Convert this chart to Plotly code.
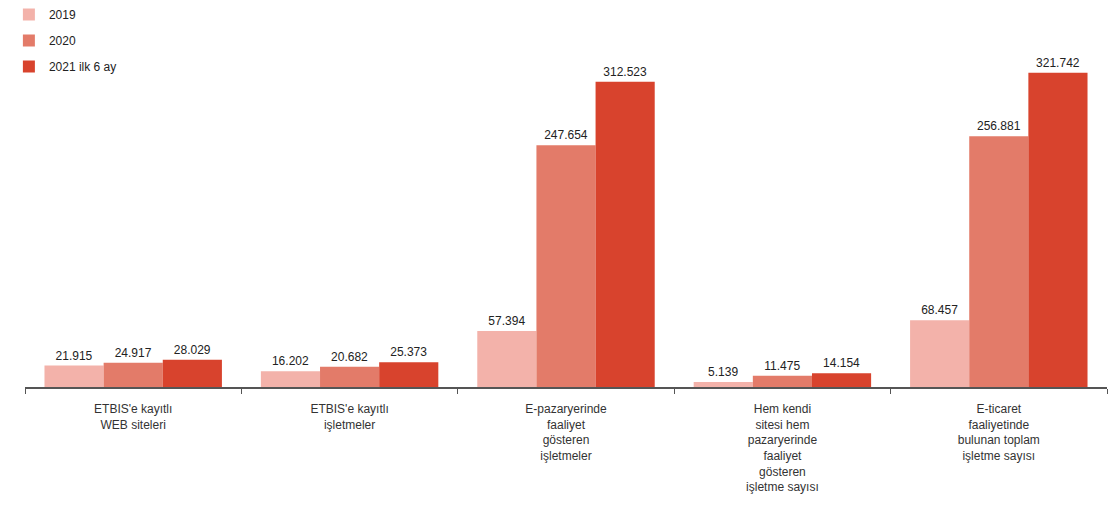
import plotly.graph_objects as go

categories = [
    "ETBIS'e kayıtlı<br>WEB siteleri",
    "ETBIS'e kayıtlı<br>işletmeler",
    "E-pazaryerinde<br>faaliyet<br>gösteren<br>işletmeler",
    "Hem kendi<br>sitesi hem<br>pazaryerinde<br>faaliyet<br>gösteren<br>işletme sayısı",
    "E-ticaret<br>faaliyetinde<br>bulunan toplam<br>işletme sayısı",
]
series_names = ["2019", "2020", "2021 ilk 6 ay"]
values_2019 = [21915, 16202, 57394, 5139, 68457]
values_2020 = [24917, 20682, 247654, 11475, 256881]
values_2021 = [28029, 25373, 312523, 14154, 321742]
colors = ["#f3b2aa", "#e37b69", "#d8432d"]

fig = go.Figure()
for i, (name, vals) in enumerate(zip(series_names, [values_2019, values_2020, values_2021])):
    fig.add_trace(go.Bar(
        x=categories,
        y=vals,
        name=name,
        legendgroup=name,
        marker=dict(color=colors[i], line=dict(width=0)),
        texttemplate="%{y:,}",
        textposition="outside",
        textfont=dict(family="Liberation Sans, Arial, sans-serif", size=12, color="#222"),
        cliponaxis=False,
    ))

fig.update_layout(
    width=1111,
    height=510,
    barmode="group",
    bargap=0.18,
    bargroupgap=0,
    separators=",.",
    paper_bgcolor="white",
    plot_bgcolor="white",
    margin=dict(l=25, r=4, t=55, b=123, autoexpand=False),
    font=dict(family="Liberation Sans, Arial, sans-serif", size=12, color="#333"),
    legend=dict(
        x=0.008, y=1.0, xref="container", yref="container",
        xanchor="left", yanchor="top",
        traceorder="grouped", tracegroupgap=7,
        font=dict(size=12, color="#222"),
        bgcolor="rgba(0,0,0,0)",
    ),
    xaxis=dict(
        showline=True, linecolor="#555", linewidth=1.5,
        ticks="outside", tickson="boundaries", ticklen=5, tickcolor="#555",
        ticklabelstandoff=10,
        tickfont=dict(size=12, color="#333"),
    ),
    yaxis=dict(
        range=[0, 340000], visible=False, showgrid=False, zeroline=False,
    ),
)

fig.write_html("out.html")
